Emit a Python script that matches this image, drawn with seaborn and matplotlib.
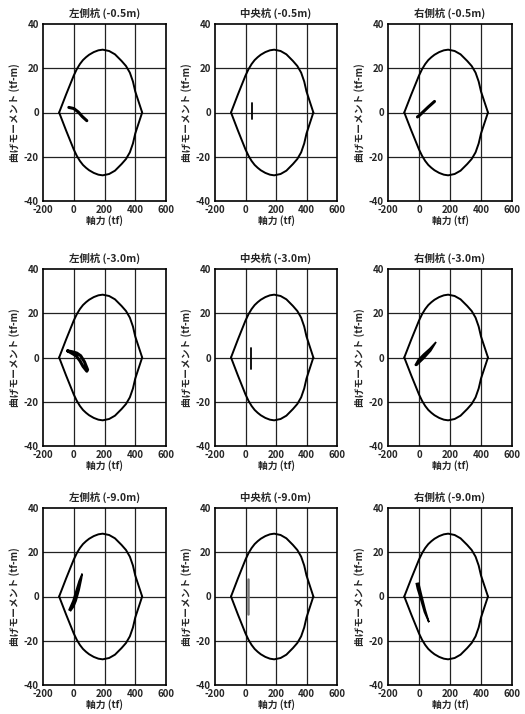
import numpy as np
import matplotlib
matplotlib.use("Agg")
import matplotlib.pyplot as plt
import seaborn as sns
import pandas as pd

sns.set_theme(style="white")
plt.rcParams["font.family"] = ["Noto Sans CJK JP", "DejaVu Sans"]
plt.rcParams["axes.unicode_minus"] = False

# Axial force – bending moment capacity envelope (upper half, mirrored below)
ENV_N = [-95, -50, 0, 20, 40, 60, 80, 100, 130, 160, 188, 230, 268, 311,
         340, 365, 385, 400, 445]
ENV_M = [0.0, 8.1, 16.7, 19.6, 21.9, 23.7, 25.0, 26.1, 27.3, 28.1, 28.4,
         27.8, 26.3, 23.3, 21.0, 18.0, 14.0, 9.5, 0.0]

TITLES = ["左側杭 (-0.5m)", "中央杭 (-0.5m)", "右側杭 (-0.5m)",
          "左側杭 (-3.0m)", "中央杭 (-3.0m)", "右側杭 (-3.0m)",
          "左側杭 (-9.0m)", "中央杭 (-9.0m)", "右側杭 (-9.0m)"]

X_TICKS = [-200, 0, 200, 400, 600]
Y_TICKS = [-40, -20, 0, 20, 40]
X_LABEL = "軸力 (tf)"
Y_LABEL = "曲げモーメント (tf-m)"

# Response loci (N, M) for each pile
L05_N = [-32, 0, 30, 55, 85]
L05_M = [2.3, 1.8, 0.2, -1.8, -3.7]
C05_N = [40, 40]
C05_M = [-3.0, 4.5]
R05_N = [-10, 0, 30, 60, 100]
R05_M = [-2.0, -1.5, 0.5, 2.5, 5.0]

L30_N = [-40, -10, 20, 45, 70, 90, 85, 60, 40, 15, -15, -40]
L30_M = [3.0, 2.6, 2.0, 0.8, -2.0, -5.5, -6.2, -4.0, -1.5, 0.8, 2.0, 3.0]
C30_N = [35, 35]
C30_M = [-5.0, 4.5]
R30_N = [-25, -5, 30, 70, 110, 75, 30, 0, -15]
R30_M = [-3.5, -1.0, 1.5, 4.0, 7.0, 3.0, -0.5, -2.5, -3.5]

L90_N = [-30, -5, 15, 35, 55, 50, 35, 15, 0, -20]
L90_M = [-6.0, -2.0, 2.5, 7.0, 10.3, 8.0, 3.0, -2.0, -4.5, -6.4]
C90_N = [15, 15]
C90_M = [-8.0, 8.0]
R90_N = [-17, -2, 15, 40, 64, 35, 10, -10]
R90_M = [5.8, 6.0, 1.0, -6.0, -11.6, -7.0, -1.0, 3.5]

LOCI = [
    ("line", L05_N, L05_M), ("line", C05_N, C05_M), ("line", R05_N, R05_M),
    ("loop", L30_N, L30_M), ("line", C30_N, C30_M), ("fill", R30_N, R30_M),
    ("fill", L90_N, L90_M), ("line", C90_N, C90_M), ("fill", R90_N, R90_M),
]

env_upper = pd.DataFrame({"N": ENV_N, "M": ENV_M})
env_lower = pd.DataFrame({"N": ENV_N, "M": [-m for m in ENV_M]})

fig = plt.figure(figsize=(5.25, 7.14), dpi=100)
W, H = 525, 714
col_left = [43, 215, 388]
col_width = [123, 122, 124]
row_top = [24, 269, 508]
row_height = 177

for i in range(9):
    r, c = divmod(i, 3)
    ax = fig.add_axes([col_left[c] / W, 1 - (row_top[r] + row_height) / H,
                       col_width[c] / W, row_height / H])
    ax.set_xlim(-200, 600)
    ax.set_ylim(-40, 40)
    ax.set_xticks(X_TICKS)
    ax.set_yticks(Y_TICKS)
    for x in X_TICKS[1:-1]:
        ax.axvline(x, color="#222222", lw=0.9, zorder=1)
    for y in Y_TICKS[1:-1]:
        ax.axhline(y, color="#222222", lw=0.9, zorder=1)

    sns.lineplot(data=env_upper, x="N", y="M", sort=False, estimator=None,
                 ax=ax, color="black", lw=1.4, zorder=3)
    sns.lineplot(data=env_lower, x="N", y="M", sort=False, estimator=None,
                 ax=ax, color="black", lw=1.4, zorder=3)

    kind, ln, lm = LOCI[i]
    if kind == "fill":
        ax.fill(ln, lm, color="black", lw=1.2, zorder=4)
    else:
        vertical = ln[0] == ln[-1] and len(ln) == 2
        lw = 1.3 if vertical else 2.2
        col = "#777777" if i == 7 else "black"
        if i == 7:
            lw = 1.8
        sns.lineplot(x=ln, y=lm, sort=False, estimator=None, ax=ax,
                     color=col, lw=lw, zorder=4)

    for s in ax.spines.values():
        s.set_color("black")
        s.set_linewidth(1.2)
    ax.tick_params(axis="both", labelsize=7, length=0, pad=3)
    for lab in ax.get_xticklabels() + ax.get_yticklabels():
        lab.set_fontweight("bold")
    ax.set_title(TITLES[i], fontsize=7.5, fontweight="bold", pad=5)
    ax.set_xlabel(X_LABEL, fontsize=7, fontweight="bold", labelpad=0)
    ax.set_ylabel(Y_LABEL, fontsize=7, fontweight="bold", labelpad=3)

fig.savefig("out.png", dpi=100, facecolor="white")
